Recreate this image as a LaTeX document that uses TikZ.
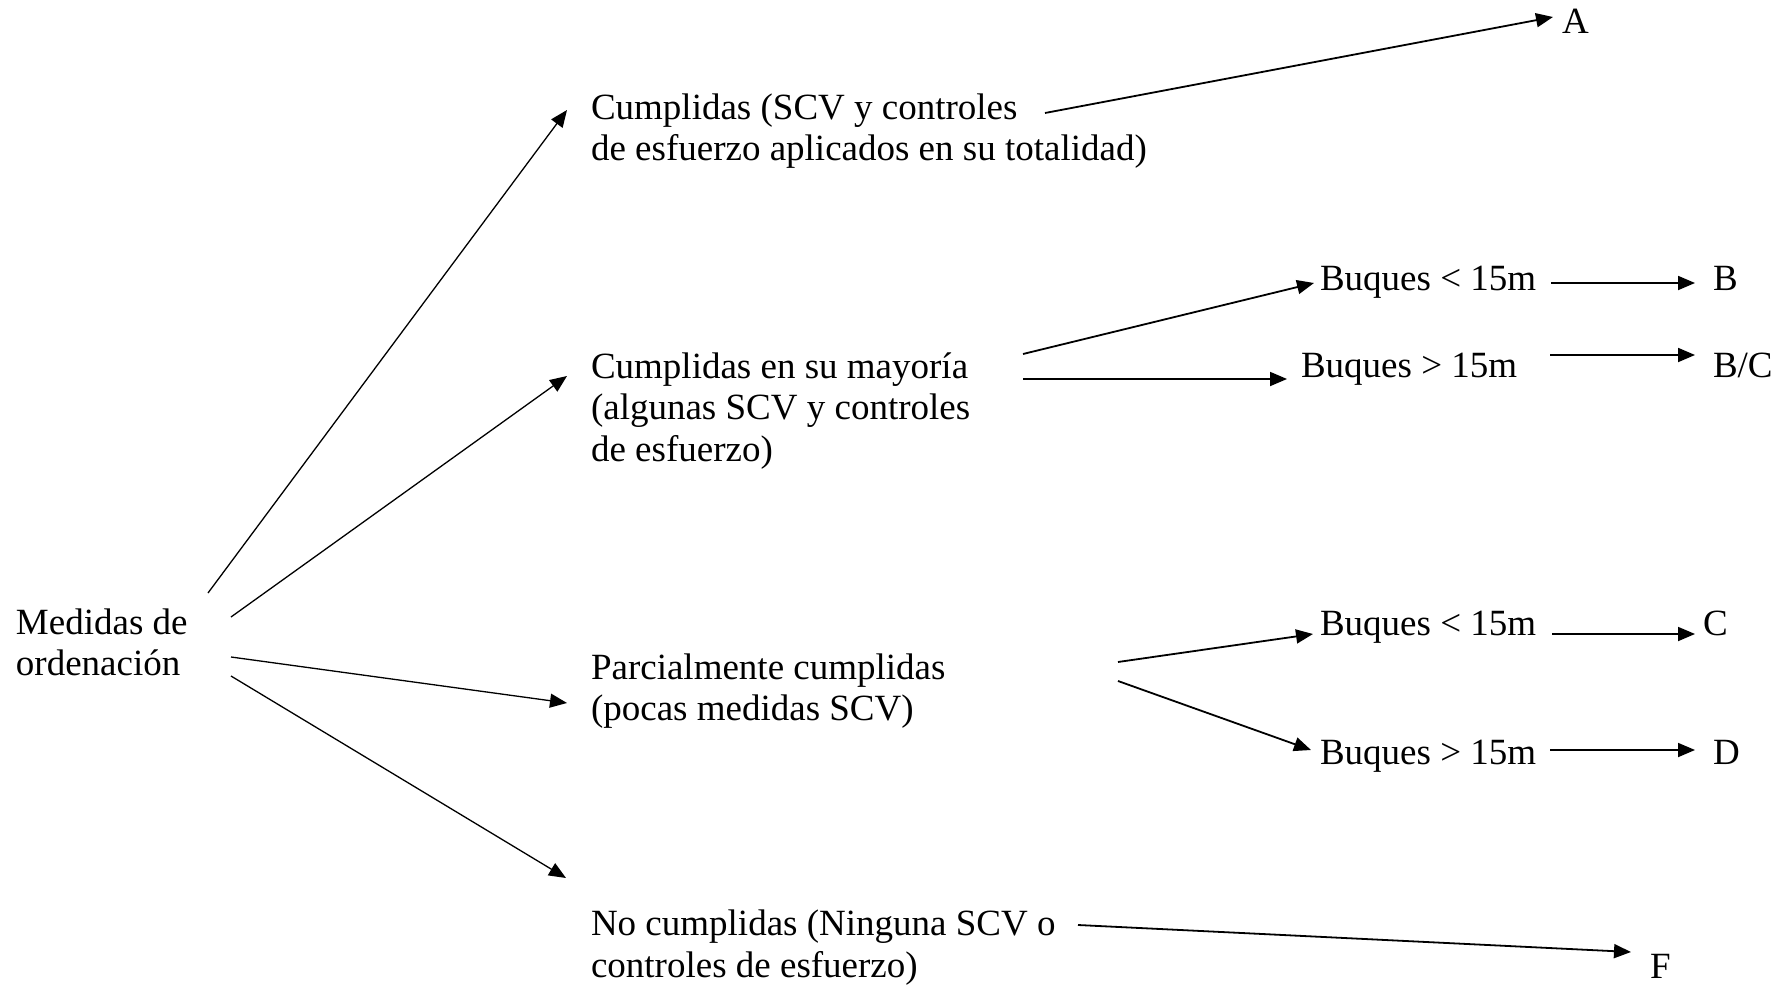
\documentclass[tikz,border=0pt]{standalone}
\usepackage{fontspec}
\setmainfont{Liberation Serif}
\usetikzlibrary{arrows.meta}
\begin{document}
\begin{tikzpicture}[x=0.5pt,y=-0.5pt,
  lbl/.style={anchor=base west, inner sep=0pt, outer sep=0pt, align=left,
    font=\fontsize{18.5}{20.75}\selectfont},
  conn/.style={-{Triangle[length=8.5pt,width=7pt]}, line width=0.65pt},
  connb/.style={conn, line width=0.9pt}]
\useasboundingbox (0,0) rectangle (1785,985);
% nodes (anchored at the baseline of their last line)
\node[lbl] (med) at (16,675.5) {Medidas de\\ordenación};
\node[lbl] (cum) at (591,160.5) {Cumplidas (SCV y controles\\de esfuerzo aplicados en su totalidad)};
\node[lbl] (may) at (591,461) {Cumplidas en su mayoría\\(algunas SCV y controles\\de esfuerzo)};
\node[lbl] (par) at (591,720.5) {Parcialmente cumplidas\\(pocas medidas SCV)};
\node[lbl] (noc) at (591,977) {No cumplidas (Ninguna SCV o\\controles de esfuerzo)};
\node[lbl] (A) at (1562,33) {A};
\node[lbl] (bq1) at (1320,290) {Buques < 15m};
\node[lbl] (B) at (1713,290) {B};
\node[lbl] (bq2) at (1301,377) {Buques > 15m};
\node[lbl] (BC) at (1713,377) {B/C};
\node[lbl] (bq3) at (1320,635) {Buques < 15m};
\node[lbl] (C) at (1703,635) {C};
\node[lbl] (bq4) at (1320,764) {Buques > 15m};
\node[lbl] (D) at (1713,764) {D};
\node[lbl] (F) at (1650,978) {F};
% connector ends
\coordinate (m1) at (208,593);  \coordinate (e1) at (567,110);
\coordinate (m2) at (231,617);  \coordinate (e2) at (567,376);
\coordinate (m3) at (231,657);  \coordinate (e3) at (567,703);
\coordinate (m4) at (231,676);  \coordinate (e4) at (566,878);
\coordinate (c1) at (1045,113); \coordinate (a1) at (1553,17);
\coordinate (y1) at (1023,354); \coordinate (q1) at (1314,283);
\coordinate (y2) at (1023,379); \coordinate (q2) at (1287,379);
\coordinate (q1r) at (1551,283); \coordinate (b1) at (1695,283);
\coordinate (q2r) at (1550,355); \coordinate (b2) at (1695,355);
\coordinate (p1) at (1118,662); \coordinate (q3) at (1313,634);
\coordinate (p2) at (1118,681); \coordinate (q4) at (1311,750);
\coordinate (q3r) at (1552,634); \coordinate (c3) at (1695,634);
\coordinate (q4r) at (1550,750); \coordinate (d4) at (1695,750);
\coordinate (n1) at (1078,925); \coordinate (f1) at (1631,952);
% connectors
\draw[conn] (m1) -- (e1);
\draw[conn] (m2) -- (e2);
\draw[conn] (m3) -- (e3);
\draw[conn] (m4) -- (e4);
\draw[connb] (c1) -- (a1);
\draw[connb] (y1) -- (q1);
\draw[connb] (y2) -- (q2);
\draw[connb] (q1r) -- (b1);
\draw[connb] (q2r) -- (b2);
\draw[connb] (p1) -- (q3);
\draw[connb] (p2) -- (q4);
\draw[connb] (q3r) -- (c3);
\draw[connb] (q4r) -- (d4);
\draw[connb] (n1) -- (f1);
\end{tikzpicture}
\end{document}
